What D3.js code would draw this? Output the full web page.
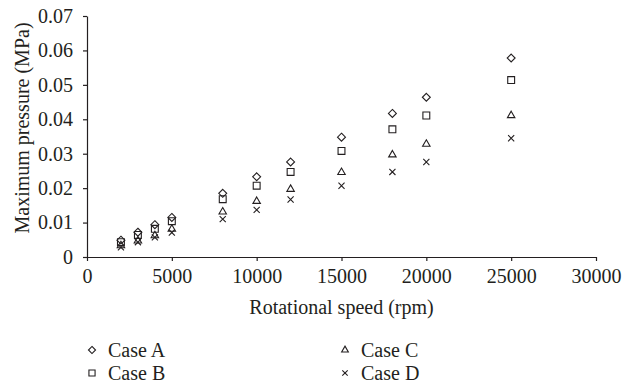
<!DOCTYPE html>
<html>
<head>
<meta charset="utf-8">
<script src="https://cdn.jsdelivr.net/npm/d3@7"></script>
<style>
  html, body { margin: 0; padding: 0; background: #fff; }
  svg { display: block; }
  text { font-family: "Liberation Serif", "DejaVu Serif", serif; fill: #231f20; }
</style>
</head>
<body>
<svg id="chart" width="622" height="389"></svg>
<script>
// ---- data ----
const speeds = [2000, 3000, 4000, 5000, 8000, 10000, 12000, 15000, 18000, 20000, 25000];
const caseA = [0.0049, 0.0072, 0.0094, 0.0115, 0.0185, 0.0233, 0.0276, 0.0348, 0.0417, 0.0464, 0.0578];
const caseB = [0.0043, 0.0064, 0.0082, 0.0104, 0.0168, 0.0207, 0.0247, 0.0308, 0.0371, 0.0411, 0.0514];
const caseC = [0.0033, 0.0047, 0.0062, 0.0081, 0.0131, 0.0162, 0.0197, 0.0246, 0.0297, 0.0328, 0.0411];
const caseD = [0.0028, 0.0043, 0.0057, 0.0071, 0.0110, 0.0137, 0.0167, 0.0207, 0.0247, 0.0276, 0.0345];
const seriesNames = ["Case A", "Case B", "Case C", "Case D"];
const xTicks = [0, 5000, 10000, 15000, 20000, 25000, 30000];
const yTicks = [0, 0.01, 0.02, 0.03, 0.04, 0.05, 0.06, 0.07];
const xTitle = "Rotational speed (rpm)";
const yTitle = "Maximum pressure (MPa)";

const series = [
  { name: seriesNames[0], values: caseA, symbol: d3.symbolDiamond2, size: 40 },
  { name: seriesNames[1], values: caseB, symbol: d3.symbolSquare2, size: 60 },
  { name: seriesNames[2], values: caseC, symbol: d3.symbolTriangle2, size: 40 },
  { name: seriesNames[3], values: caseD, symbol: d3.symbolTimes, size: 26 }
];

const ink = "#231f20";
const svg = d3.select("#chart");
const m = { left: 87, right: 26, top: 16, bottom: 132 };
const W = 622, H = 389;
const x = d3.scaleLinear().domain([0, 30000]).range([m.left, W - m.right]);
const y = d3.scaleLinear().domain([0, 0.07]).range([H - m.bottom, m.top]);

const fs = 20;

// axes
const gx = svg.append("g").attr("transform", `translate(0,${y(0)})`)
  .call(d3.axisBottom(x).tickValues(xTicks).tickFormat(d => String(d)).tickSize(4).tickSizeOuter(0));
const gy = svg.append("g").attr("transform", `translate(${x(0)},0)`)
  .call(d3.axisLeft(y).tickValues(yTicks).tickFormat(d => d === 0 ? "0" : d.toFixed(2)).tickSize(4).tickSizeOuter(0));

[gx, gy].forEach(g => {
  g.attr("font-family", null);
  g.select(".domain").attr("stroke", ink).attr("stroke-width", 1.2);
  g.selectAll(".tick line").attr("stroke", ink).attr("stroke-width", 1.2);
  g.selectAll(".tick text").style("font-size", fs + "px").attr("fill", ink);
});
gx.selectAll(".tick text").attr("dy", "0.71em").attr("y", 12);
gy.selectAll(".tick text").attr("x", -14);

// axis titles
svg.append("text").attr("x", (x(0) + x(30000)) / 2).attr("y", 314)
  .attr("text-anchor", "middle").style("font-size", fs + "px").text(xTitle);
svg.append("text")
  .attr("transform", `translate(29,128) rotate(-90)`)
  .attr("text-anchor", "middle").style("font-size", fs + "px").text(yTitle);

// points
series.forEach(s => {
  const sym = d3.symbol().type(s.symbol).size(s.size);
  svg.append("g").selectAll("path").data(s.values).join("path")
    .attr("d", sym)
    .attr("transform", (v, i) => `translate(${x(speeds[i])},${y(v)})`)
    .attr("fill", "none").attr("stroke", ink).attr("stroke-width", 1.1);
});

// legend
const legPos = [[92, 350], [92, 373], [345, 350], [345, 373]];
series.forEach((s, i) => {
  const [lx, ly] = legPos[i];
  svg.append("path").attr("d", d3.symbol().type(s.symbol).size(s.size * 0.8)())
    .attr("transform", `translate(${lx},${ly})`)
    .attr("fill", "none").attr("stroke", ink).attr("stroke-width", 1.1);
  svg.append("text").attr("x", lx + 16).attr("y", ly).attr("dy", "0.35em")
    .style("font-size", fs + "px").text(s.name);
});
</script>
</body>
</html>
